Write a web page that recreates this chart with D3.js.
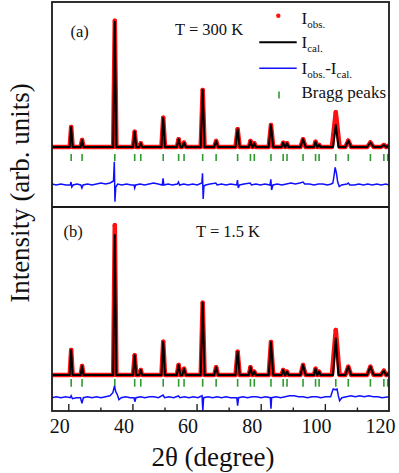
<!DOCTYPE html>
<html>
<head>
<meta charset="utf-8">
<script src="https://cdn.jsdelivr.net/npm/d3@7"></script>
<style>
  body { margin: 0; background: #fff; }
  svg { display: block; }
  text { font-family: "Liberation Serif", "Tinos", "Times New Roman", Times, "DejaVu Serif", serif; fill: #111; }
</style>
</head>
<body>
<svg width="399" height="473"></svg>
<script>
// reflection positions (2theta, deg)
const braggPos = [23.7, 27.1, 37.3, 43.5, 45.4, 52.4, 57.2, 58.9, 64.7, 68.9, 75.6, 79.6, 80.8, 86.0, 89.8, 91.0, 96.0, 99.9, 101.0, 106.2, 110.1, 117.0, 121.2, 122.4];
// half width of each peak at its foot (deg)
const peakWidth = [0.45, 0.45, 0.5, 0.5, 0.45, 0.55, 0.55, 0.55, 0.6, 0.6, 0.65, 0.5, 0.5, 0.7, 0.5, 0.5, 0.8, 0.5, 0.5, 0.85, 0.9, 1.0, 0.9, 0.5];
const obsWidth  = [0.45, 0.45, 0.5, 0.5, 0.45, 0.55, 0.55, 0.55, 0.6, 0.6, 0.65, 0.5, 0.5, 0.7, 0.5, 0.5, 0.8, 0.5, 0.5, 1.2, 0.9, 1.0, 0.9, 0.5];

// peak heights above background (arb. units), panel (a) T = 300 K
const calcA = [200, 70, 1253, 153, 37, 293, 77, 43, 570, 60, 177, 60, 37, 220, 43, 37, 77, 53, 20, 220, 63, 45, 20, 10];
const obsA  = [200, 70, 1263, 153, 37, 293, 77, 43, 570, 60, 177, 60, 37, 220, 43, 37, 77, 53, 20, 347, 63, 45, 20, 10];
// panel (b) T = 1.5 K
const calcB = [250, 90, 1400, 197, 50, 333, 100, 63, 723, 77, 233, 77, 33, 330, 50, 33, 100, 63, 33, 367, 83, 83, 43, 10];
const obsB  = [250, 90, 1497, 197, 50, 333, 100, 63, 723, 77, 233, 77, 33, 330, 50, 33, 100, 63, 33, 450, 83, 83, 43, 10];

// Iobs - Ical
const diffA = [[17.7, 10], [19, 0], [20.5, 10], [22, 0], [23.4, 0], [23.65, 30], [23.9, -20], [24.3, 0], [25.5, 10], [26.7, 0], [27.05, -30], [27.4, 0], [28.8, 10], [30.2, 0], [31.6, 10], [33, 20], [34.4, 10], [35.8, 20], [36.9, 40], [37.15, 233], [37.35, -167], [37.6, -20], [38.2, 10], [39.5, 0], [41, 10], [42.4, 0], [43.3, 0], [43.5, -30], [43.8, 0], [45.2, 10], [46.6, 0], [48, 10], [49.4, 20], [50.8, 10], [52.1, 0], [52.35, 67], [52.6, 0], [53.9, 10], [55.3, 0], [56.8, 10], [57.15, 30], [57.5, 0], [58.8, 10], [60.2, 0], [61.6, 10], [63, 0], [64.45, 20], [64.65, 117], [64.85, -140], [65.1, -10], [65.6, 0], [67, 10], [68.8, 20], [69.2, 0], [70.6, 10], [72, 0], [73.4, 10], [75.3, 0], [75.55, 50], [75.8, -30], [76.2, 0], [77.6, 10], [79.5, 20], [79.9, 0], [81.3, 10], [82.7, 0], [84.1, 10], [85.7, 0], [85.95, 57], [86.2, -50], [86.6, 0], [88, 10], [89.4, 0], [90.8, 10], [92.2, 20], [93.6, 10], [95, 20], [96, 30], [96.5, 10], [98, 10], [99.4, 0], [100.8, 10], [102.2, 10], [103.6, 0], [104.8, 10], [105.3, 20], [105.7, 100], [106.0, 177], [106.4, 120], [106.8, 30], [107.3, -15], [108, 0], [109.7, 10], [110.1, 20], [110.6, 0], [112, 0], [113.4, 10], [114.8, 0], [116.2, 10], [117.6, 0], [119, 10], [120.4, 0], [121.8, 10], [122.8, 0]];
const diffB = [[17.7, 0], [19, 10], [20.5, 0], [22, 10], [23.4, 0], [23.7, 20], [24.1, -10], [25.3, 0], [26.6, 0], [27.05, -57], [27.5, 0], [28.8, 10], [30.2, 0], [31.6, 10], [33, 0], [34.4, 10], [35.8, 20], [36.7, 50], [37.2, 117], [37.6, 60], [38.1, 30], [38.6, -20], [39.3, 0], [40.7, 10], [42.1, 0], [43.3, 0], [43.55, -40], [43.9, 0], [45.3, 10], [46.7, 0], [48.1, 10], [49.5, 10], [50.9, 0], [52.35, 27], [52.8, 0], [54.2, 10], [55.6, 0], [57.15, 17], [57.6, 0], [59, 10], [60.4, 0], [61.8, 10], [63.2, 0], [64.5, 20], [64.75, -130], [65.0, 0], [66.4, 10], [67.8, 0], [69.2, 10], [70.6, 0], [72, 10], [73.4, 0], [75.35, 0], [75.6, -80], [75.9, 0], [77.3, 10], [78.7, 0], [80.1, 10], [81.5, 10], [82.9, 0], [84.3, 10], [85.8, 0], [86.0, -110], [86.2, 0], [87.6, 10], [89, 0], [90.4, 10], [91.8, 20], [93.2, 20], [94.6, 10], [96, 10], [97.4, 0], [98.8, 10], [100.2, 10], [101.6, 0], [103, 10], [104.6, 10], [105.1, 60], [105.4, 87], [106.0, 80], [106.6, 87], [107.0, 20], [107.4, -30], [108.1, 0], [109.5, 10], [110.9, 20], [112.3, 10], [113.7, 20], [115.1, 10], [116.5, 20], [117.9, 10], [119.3, 10], [120.7, 0], [122.8, 10]];

const xTickLabels = [20, 40, 60, 80, 100, 120];
const majorTicks = [22.8, 42.8, 62.8, 82.8, 102.8];
const minorTicks = [32.8, 52.8, 72.8, 92.8, 112.8];

var serif = "'Liberation Serif', 'Tinos', 'Times New Roman', Times, 'DejaVu Serif', serif";

var svg = d3.select("svg");
var left = 52, right = 389;

var x = d3.scaleLinear().domain([17.72, 122.8]).range([left, right]);

var panels = [
  { name: "a", tag: "(a)", temp: "T = 300 K", top: 2, bottom: 207, dom: [-600, 1450],
    calc: calcA, obs: obsA, diff: diffA, diffShift: -380, tick: [-70, -140],
    tagX: 70.5, tempX: 175, tagY: 37, tempY: 35 },
  { name: "b", tag: "(b)", temp: "T = 1.5 K", top: 207, bottom: 411, dom: [-360, 1680],
    calc: calcB, obs: obsB, diff: diffB, diffShift: -227, tick: [-40, -117],
    tagX: 63.5, tempX: 196, tagY: 237, tempY: 237 }
];

// polyline through the foot and top of each reflection
function profile(heights, widths) {
  var pts = [[x.domain()[0], 0], [x.domain()[1], 0]];
  braggPos.forEach((p, i) => {
    if (heights[i] <= 0) return;
    pts.push([p - widths[i], 0], [p, heights[i]], [p + widths[i], 0]);
  });
  return pts.sort((a, b) => a[0] - b[0]);
}

var defs = svg.append("defs");

panels.forEach(p => {
  var y = d3.scaleLinear().domain(p.dom).range([p.bottom, p.top]);

  defs.append("clipPath").attr("id", "clip-" + p.name)
    .append("rect")
    .attr("x", left).attr("y", p.top)
    .attr("width", right - left).attr("height", p.bottom - p.top);

  var g = svg.append("g").attr("clip-path", "url(#clip-" + p.name + ")");

  var line = d3.line().x(d => x(d[0])).y(d => y(d[1]));

  // observed: red band of points
  var obsPts = profile(p.obs, obsWidth);
  g.append("path")
    .attr("d", line(obsPts))
    .attr("fill", "none")
    .attr("stroke", "#ff1010")
    .attr("stroke-width", 4.5)
    .attr("stroke-linejoin", "round");

  g.selectAll("circle.obs")
    .data(obsPts.filter(d => d[1] > 0))
    .enter().append("circle")
    .attr("class", "obs")
    .attr("cx", d => x(d[0]))
    .attr("cy", d => y(d[1]))
    .attr("r", 2.2)
    .attr("fill", "#ff1010");

  // calculated
  g.append("path")
    .attr("d", line(profile(p.calc, peakWidth)))
    .attr("fill", "none")
    .attr("stroke", "#000")
    .attr("stroke-width", 2)
    .attr("stroke-linejoin", "round");

  // bragg positions
  g.selectAll("line.bragg")
    .data(braggPos)
    .enter().append("line")
    .attr("class", "bragg")
    .attr("x1", d => x(d)).attr("x2", d => x(d))
    .attr("y1", y(p.tick[0])).attr("y2", y(p.tick[1]))
    .attr("stroke", "#2e9b2e")
    .attr("stroke-width", 1.6);

  // difference curve
  g.append("path")
    .attr("d", d3.line().x(d => x(d[0])).y(d => y(p.diffShift + d[1]))(p.diff))
    .attr("fill", "none")
    .attr("stroke", "#1010ff")
    .attr("stroke-width", 1.5);

  svg.append("text")
    .attr("x", p.tagX).attr("y", p.tagY)
    .attr("font-family", serif)
    .style("font-size", "16.5px")
    .text(p.tag);

  svg.append("text")
    .attr("x", p.tempX).attr("y", p.tempY)
    .attr("font-family", serif)
    .style("font-size", "16.5px")
    .text(p.temp);
});

// legend (panel a)
var lx = 301.5;
function legendText(yPos, parts) {
  var t = svg.append("text").attr("x", lx).attr("y", yPos)
    .attr("font-family", serif).style("font-size", "17px");
  var shift = 0;
  parts.forEach(part => {
    var sub = part[1];
    var dy = sub ? 4 - shift : -shift;
    shift = sub ? 4 : 0;
    t.append("tspan")
      .attr("dy", dy)
      .style("font-size", sub ? "11px" : "17px")
      .text(part[0]);
  });
}

svg.append("circle").attr("cx", 278.3).attr("cy", 15.7).attr("r", 2.2).attr("fill", "#ff1010");
legendText(24, [["I", false], ["obs.", true]]);

svg.append("line").attr("x1", 259.3).attr("x2", 296.7).attr("y1", 42.3).attr("y2", 42.3)
  .attr("stroke", "#000").attr("stroke-width", 2);
legendText(48, [["I", false], ["cal.", true]]);

svg.append("line").attr("x1", 259.3).attr("x2", 296.7).attr("y1", 68.3).attr("y2", 68.3)
  .attr("stroke", "#1010ff").attr("stroke-width", 1.5);
legendText(74, [["I", false], ["obs.", true], ["-I", false], ["cal.", true]]);

svg.append("line").attr("x1", 279).attr("x2", 279).attr("y1", 91.5).attr("y2", 98.5)
  .attr("stroke", "#2e9b2e").attr("stroke-width", 1.6);
legendText(97.5, [["Bragg peaks", false]]);

// bottom axis: labels
var axisLab = svg.append("g").attr("transform", "translate(0,411)")
  .call(d3.axisBottom(x).tickValues(xTickLabels).tickSize(0).tickFormat(d3.format("d")));
axisLab.attr("font-family", serif).attr("font-size", 20);
axisLab.select(".domain").remove();
axisLab.selectAll("text")
  .attr("y", 22).attr("dy", null)
  .attr("font-family", serif)
  .style("font-size", "20px")
  .style("fill", "#111");

// bottom axis: inward tick marks
function tickRow(values, size) {
  var a = svg.append("g").attr("transform", "translate(0,411)")
    .call(d3.axisBottom(x).tickValues(values).tickSizeInner(-size).tickSizeOuter(0).tickFormat(""));
  a.select(".domain").remove();
  a.selectAll("line").attr("stroke", "#222").attr("stroke-width", 1.4);
}
tickRow(majorTicks, 7);
tickRow(minorTicks, 3.5);

// frame and panel divider
svg.append("rect")
  .attr("x", left).attr("y", 2)
  .attr("width", right - left).attr("height", 409)
  .attr("fill", "none").attr("stroke", "#1a1a1a").attr("stroke-width", 1.8);
svg.append("line")
  .attr("x1", left).attr("x2", right).attr("y1", 207).attr("y2", 207)
  .attr("stroke", "#1a1a1a").attr("stroke-width", 1.8);

// axis titles
svg.append("text")
  .attr("transform", "translate(29,193) rotate(-90)")
  .attr("text-anchor", "middle")
  .attr("font-family", serif)
  .style("font-size", "27px")
  .text("Intensity (arb. units)");

svg.append("text")
  .attr("x", 213).attr("y", 466)
  .attr("text-anchor", "middle")
  .attr("font-family", serif)
  .style("font-size", "27px")
  .text("2θ (degree)");
</script>
</body>
</html>
